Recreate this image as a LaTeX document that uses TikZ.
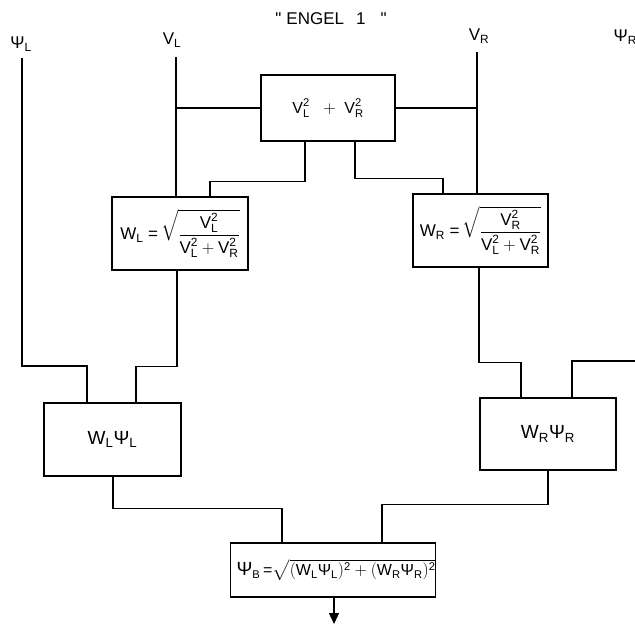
\documentclass[tikz,border=0pt]{standalone}
\usepackage{amsmath}
\usepackage{fontspec}
\setmainfont{Liberation Sans}
\usetikzlibrary{arrows.meta}
\newcommand\tx[1]{\text{#1}}
\newcommand\Vsq[1]{\tx{V}_{\tx{#1}}^{\tx{2}}}
\newcommand\WP[1]{\tx{W}_{\tx{#1}}\tx{Ψ}_{\tx{#1}}}
\begin{document}
\begin{tikzpicture}[x=1pt,y=-1pt,line width=1.2pt,
  box/.style={draw,rectangle,inner sep=0pt,font=\fontsize{16}{18}\selectfont},
  bigtext/.style={font=\fontsize{19}{21}\selectfont},
  lbl/.style={inner sep=0pt,font=\fontsize{17}{19}\selectfont},
  wire/.style={line width=1.2pt}]
\clip (0,0) rectangle (635,625);
\fill[white] (0,0) rectangle (635,625);
% title
\node[lbl] (title) at (331,19) {\textquotedbl\hspace{5pt}ENGEL\hspace{12pt}1\hspace{15pt}\textquotedbl};
% input labels
\node[lbl] (psil) at (21,44) {Ψ\textsubscript{L}};
\node[lbl] (vl) at (172,40) {V\textsubscript{L}};
\node[lbl] (vr) at (479,36) {V\textsubscript{R}};
\node[lbl,anchor=west] (psir) at (613,37) {Ψ\textsubscript{R}};
% boxes
\node[box,minimum width=134pt,minimum height=66pt] (vsq) at (328,108) {$\Vsq{L}\;\;+\;\Vsq{R}$};
\node[box,minimum width=136pt,minimum height=73pt,font=\fontsize{17}{19}\selectfont] (wl) at (180,233.5)
  {$\tx{W}_{\tx{L}}\;\tx{=}\,\sqrt{\smash[b]{\dfrac{\Vsq{L}}{\Vsq{L}+\Vsq{R}}}}\vphantom{\dfrac{\Vsq{L}}{\Vsq{L}+\Vsq{R}}}$};
\node[box,minimum width=135pt,minimum height=73pt,font=\fontsize{17}{19}\selectfont] (wr) at (480.5,230.5)
  {$\tx{W}_{\tx{R}}\;\tx{=}\,\sqrt{\smash[b]{\dfrac{\Vsq{R}}{\Vsq{L}+\Vsq{R}}}}\vphantom{\dfrac{\Vsq{R}}{\Vsq{L}+\Vsq{R}}}$};
\node[box,bigtext,minimum width=137pt,minimum height=73pt] (wlp) at (112.5,439.5) {$\WP{L}$};
\node[box,bigtext,minimum width=136pt,minimum height=72pt] (wrp) at (548,434) {$\WP{R}$};
\node[box,minimum width=204pt,minimum height=54pt] (pb) at (333,570)
  {\hspace{6pt}$\tx{\fontsize{19}{21}\selectfont Ψ}_{\tx{B}}\,\tx{=}\sqrt{(\WP{L})^{\tx{2}}+(\WP{R})^{\tx{2}}}$};
% free ends
\coordinate (psilTop) at (22,58);
\coordinate (vlTop) at (176,57);
\coordinate (vrTop) at (477,52);
\coordinate (psirEnd) at (640,361);
\coordinate (out) at (334,624);
% connectors
\draw[wire] (psilTop) -- ++(0,308) -| ([xshift=-25.5pt]wlp.north);
\draw[wire] (vlTop) -- (vlTop |- wl.north);
\draw[wire] (vsq.west) -- (vsq.west -| vlTop);
\draw[wire] (vrTop) -- (vrTop |- wr.north);
\draw[wire] (vsq.east) -- (vsq.east -| vrTop);
\draw[wire] ([xshift=-23pt]vsq.south) -- ++(0,40) -| ([xshift=30pt]wl.north);
\draw[wire] ([xshift=27pt]vsq.south) -- ++(0,37) -| ([xshift=-37.5pt]wr.north);
\draw[wire] ([xshift=-3pt]wl.south) -- ++(0,96) -| ([xshift=23.5pt]wlp.north);
\draw[wire] ([xshift=-1.5pt]wr.south) -- ++(0,95) -| ([xshift=-27pt]wrp.north);
\draw[wire] (psirEnd) -| ([xshift=24pt]wrp.north);
\draw[wire] ([xshift=0.5pt]wlp.south) -- ++(0,32) -| ([xshift=-51pt]pb.north);
\draw[wire] (wrp.south) -- ++(0,34) -| ([xshift=49pt]pb.north);
\draw[wire,-{Triangle[width=10pt,length=11pt]}] ([xshift=1pt]pb.south) -- (out);
\end{tikzpicture}
\end{document}
